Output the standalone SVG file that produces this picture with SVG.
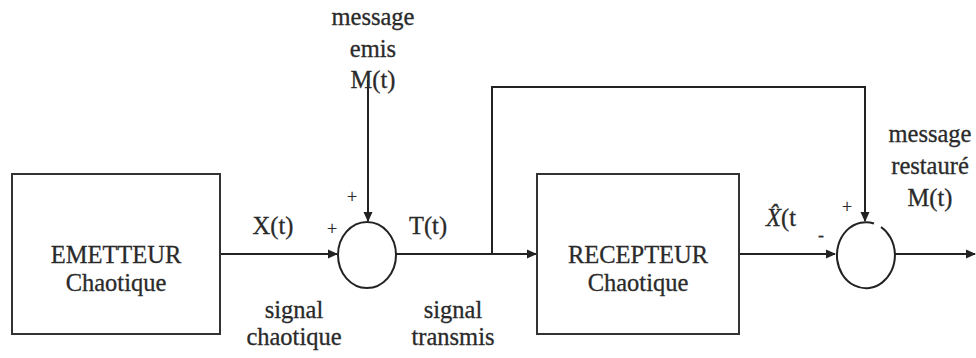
<svg xmlns="http://www.w3.org/2000/svg" width="976" height="358" viewBox="0 0 976 358">
  <style>
    .box { fill: #fff; stroke: #333; stroke-width: 2; }
    .sum { fill: none; stroke: #222; stroke-width: 2; }
    .wire { fill: none; stroke: #222; stroke-width: 2; }
    text { font-family: "Liberation Serif", "Times New Roman", serif; fill: #2a2a2a; stroke: #2a2a2a; stroke-width: 0.3; text-anchor: middle; }
    .lbl { font-size: 24.5px; }
    .sign { font-size: 18px; stroke-width: 0.2; }
  </style>
  <defs>
    <marker id="arrow" markerWidth="10" markerHeight="10" refX="9" refY="5" orient="auto" markerUnits="userSpaceOnUse">
      <path d="M0,0.5 L10,5 L0,9.5 Z" fill="#222"/>
    </marker>
  </defs>

  <rect width="976" height="358" fill="#fff"/>

  <!-- connectors -->
  <g id="connectors">
    <line class="wire" x1="220" y1="254" x2="337" y2="254" marker-end="url(#arrow)"/>
    <line class="wire" x1="368" y1="80" x2="368" y2="221" marker-end="url(#arrow)"/>
    <line class="wire" x1="396" y1="254" x2="536" y2="254" marker-end="url(#arrow)"/>
    <polyline class="wire" points="492,254 492,87 865,87 865,221" marker-end="url(#arrow)"/>
    <line class="wire" x1="739" y1="254" x2="835" y2="254" marker-end="url(#arrow)"/>
    <line class="wire" x1="894" y1="254" x2="975" y2="254" marker-end="url(#arrow)"/>
  </g>

  <!-- chaotic transmitter -->
  <g id="emetteur">
    <rect class="box" x="12" y="174" width="208" height="160"/>
    <text class="lbl" x="116" y="263">EMETTEUR</text>
    <text class="lbl" x="116" y="291">Chaotique</text>
  </g>

  <!-- adder at the transmitter -->
  <g id="sum-emission">
    <ellipse class="sum" cx="367" cy="255" rx="29" ry="33"/>
    <text class="sign" x="352" y="203">+</text>
    <text class="sign" x="332" y="235">+</text>
  </g>

  <!-- chaotic receiver -->
  <g id="recepteur">
    <rect class="box" x="537" y="174" width="202" height="160"/>
    <text class="lbl" x="638" y="263">RECEPTEUR</text>
    <text class="lbl" x="638" y="291">Chaotique</text>
  </g>

  <!-- subtractor at the receiver -->
  <g id="sum-reception">
    <path class="sum" d="M 874 223.5 A 29 33 0 1 0 881 227"/>
    <text class="sign" x="847" y="213">+</text>
    <text class="sign" x="821" y="241">-</text>
  </g>

  <!-- signal labels -->
  <g id="labels">
    <text class="lbl" x="373" y="25">message</text>
    <text class="lbl" x="373" y="57">emis</text>
    <text class="lbl" x="373" y="88">M(t)</text>

    <text class="lbl" x="273" y="234">X(t)</text>
    <text class="lbl" x="428" y="234">T(t)</text>

    <text class="lbl" x="294" y="318">signal</text>
    <text class="lbl" x="294" y="345">chaotique</text>
    <text class="lbl" x="453" y="318">signal</text>
    <text class="lbl" x="453" y="345">transmis</text>

    <text class="lbl" x="781" y="226"><tspan font-style="italic">X̂</tspan>(t</text>

    <text class="lbl" x="930" y="142">message</text>
    <text class="lbl" x="930" y="174">restauré</text>
    <text class="lbl" x="930" y="206">M(t)</text>
  </g>
</svg>
